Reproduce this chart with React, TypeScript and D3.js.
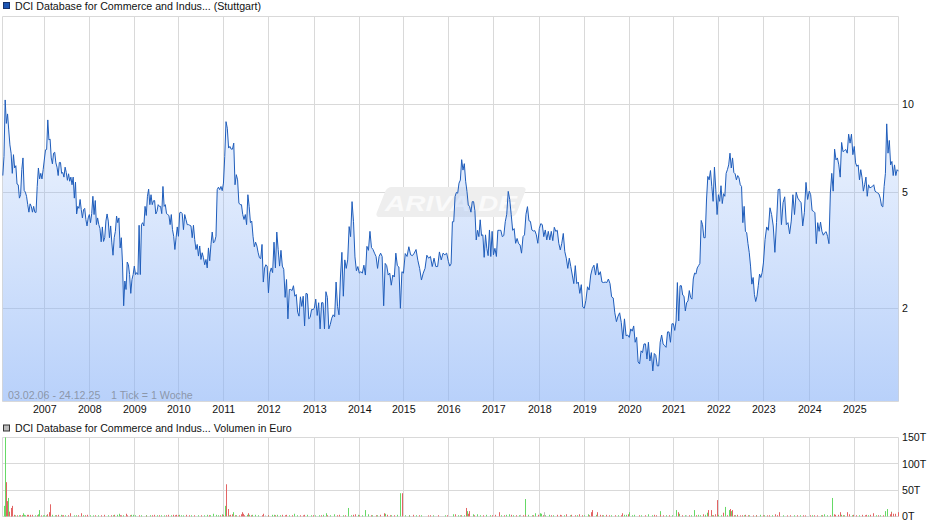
import React from "react";
import * as d3 from "d3";

const yearLabels = ["2007","2008","2009","2010","2011","2012","2013","2014","2015","2016","2017","2018","2019","2020","2021","2022","2023","2024","2025"];
// weeks of data in each calendar segment, 2006 .. 2025
const weeksPerYear = [48,52,52,51,52,52,53,52,51,52,52,53,52,52,51,52,52,53,52,51];

const p2006 = [5.7,6.63,10.35,8.6,9.27,8.17,7.26,6.8,5.8,6.72,6.05,6.16,5.33,5.3,4.77,4.9,5.97,6.55,5.07,5.0,4.84,4.53,4.27,4.56,4.47,4.27,4.47,4.27,4.26,5.23,6.05,5.55,5.8,5.55,5.97];
const p2007 = [6.98,7.0,8.84,7.55,7.6,6.55,6.25,6.8,6.85,6.3,6.09,5.7,6.32,6.32,5.8,5.84,5.63,6.09,5.84,5.49,5.78,5.45,5.63,5.3,5.63,4.77,5.41,4.21,4.47,4.4,4.72,4.36,4.08,4.36,4.4,4.03,3.83,4.08,4.19];
const p2008 = [3.93,4.22,4.84,4.19,4.68,3.87,4.08,3.87,3.75,3.38,3.8,3.39,3.49,3.98,4.21,3.98,3.49,3.83,3.35,3.04,3.49,3.67,4.14,3.93,4.08,3.22,3.49,2.86,2.04,2.48,2.32,2.88,2.82,2.61,2.25,2.51,2.61,2.79];
const p2009 = [2.61,2.65,2.61,3.85,2.61,3.87,3.93,3.83,4.47,4.16,4.84,5.12,4.53,4.9,4.53,4.67,4.68,4.21,4.3,4.53,4.47,4.47,4.22,5.23,4.47,4.53,4.22,4.19,4.16,3.87,4.19,3.72,3.53,3.18,3.49,3.8,3.53];
const p2010 = [4.25,4.27,4.22,3.72,4.19,4.03,3.87,3.87,3.85,3.83,3.49,3.85,3.44,3.18,3.31,3.02,3.27,2.94,3.1,2.98,2.82,2.94,2.75,3.22,2.91,3.31,3.65,3.35,3.39,3.53,5.1,5.2,5.1,5.23,5.06,5.37];
const p2011 = [6.63,8.72,8.28,7.08,7.17,7.02,7.02,7.36,5.3,5.74,5.51,4.59,4.53,4.53,4.19,4.03,4.19,3.87,4.9,4.47,3.93,3.98,3.53,3.25,3.37,3.27,3.1,2.98,2.96,3.31,2.46,2.75,2.82,2.79,2.26];
const p2012 = [2.65,2.75,2.65,3.37,2.75,3.65,3.18,2.79,3.16,2.79,2.72,2.18,2.51,1.84,2.32,2.32,2.3,2.39,2.2,2.23,1.94,1.88,2.19,2.03,2.2,1.74,2.25,2.24,1.84,1.86,1.98,1.98,2.0];
const p2013 = [2.15,1.89,2.09,1.7,2.09,2.09,1.7,2.28,2.18,1.7,1.76,1.85,1.9,1.87,2.46,2.03,1.9,2.56,3.11,2.2,2.93,2.74,2.93,3.81,3.52,4.64,3.96,3.0,2.69,2.78,2.64];
const p2014 = [2.67,2.64,2.81,2.6,3.26,3.16,3.67,3.23,3.18,3.09,3.01,2.74,3.01,3.09,3.01,2.04,2.85,2.8,2.6,2.64,2.4,2.6,2.56,3.09,2.8,2.77,2.0,2.67,2.64];
const p2015 = [3.08,3.01,3.25,3.05,3.03,3.09,3.18,2.92,2.74,2.5,2.64,2.74,3.04,2.97,3.01,2.78,2.97,2.78,2.78,3.12,2.93,3.09,3.05,3.09,2.89];
const p2016 = [2.79,2.84,3.96,3.96,4.83,4.99,4.96,5.37,5.5,6.46,5.95,6.26,5.45,5.03,4.52,4.46,4.27,4.64,4.64,4.32,3.43,3.7,3.52,4.02,3.55,3.57,2.99,3.57,3.21,3.03,3.71,3.01,3.67,3.05];
const p2017 = [3.21,3.01,3.7,3.7,3.7,3.52,3.55,3.96,4.2,5.03,4.72,4.2,3.7,3.75,3.34,3.47,3.33,3.3,3.09,3.52,3.57,4.2,4.46,3.99,3.97,3.71,3.68,3.69,3.57,3.34,3.75];
const p2018 = [3.9,3.87,3.52,3.71,3.43,3.67,3.43,3.67,3.41,3.79,3.67,3.7,3.34,3.17,3.34,3.61,3.13,2.97,2.74,2.97,2.78,2.6,2.43,2.8,2.43,2.46,2.25,2.41,2.02,2.0];
const p2019 = [2.13,2.37,2.31,2.6,2.74,2.81,2.6,2.85,2.6,2.67,2.46,2.45,2.46,2.45,2.52,2.43,2.19,2.17,1.93,1.8,1.88,1.93,1.79,1.57,1.84,1.61,1.62,1.59];
const p2020 = [1.7,1.67,1.74,1.53,1.59,1.31,1.29,1.43,1.41,1.51,1.51,1.34,1.53,1.32,1.41,1.22,1.4,1.38,1.27,1.27,1.53,1.62,1.51,1.49,1.47,1.66,1.66,1.53,1.77,1.77];
const p2021 = [1.68,1.81,2.45,1.81,2.39,2.39,2.22,2.2,1.96,2.09,2.12,2.3,2.18,2.15,2.52,2.64,2.62,2.75,2.8,2.85,4.0,3.87,3.49,3.49,4.7,5.66,5.51,5.93,5.23,4.65,6.09,5.12,4.19,4.9];
const p2022 = [4.65,5.26,4.57,4.94,4.84,5.8,5.97,6.2,6.8,6.05,6.55,5.84,5.78,5.51,5.7,5.6,5.3,5.23,3.93,4.47,3.67,3.63,3.33,3.1,2.79,2.42,2.55,2.23,2.11,2.2,2.39,2.62,2.55,2.65,2.86];
const p2023 = [3.44,3.8,3.7,4.42,4.19,3.83,3.11,3.93,5.1,5.12,3.87,4.6,4.82,3.87,3.93,3.6,3.98,4.9,4.19,5.0,4.77,4.68,4.6,3.83,4.25,5.4,4.72,5.04];
const p2024 = [4.9,4.33,4.3,4.25,3.33,3.93,3.67,3.95,3.67,3.56,3.63,3.66,3.53,3.33,4.97,5.8,5.04,7.02,6.45,6.55,6.2,5.63,7.4,6.88,6.94,7.0,6.8,7.9,7.36,7.9,6.72,7.17];
const p2025 = [6.3,6.13,6.2,5.51,5.97,5.6,5.04,5.3,5.63,4.84,5.3,5.17,5.2,5.23,5.3,5.04,5.0,4.97,4.93,4.77,4.49,4.45,5.23,5.8,8.57,6.8,7.52,6.2,6.37,5.7,6.2,5.7,5.97,5.9];
const priceByYear = [p2006,p2007,p2008,p2009,p2010,p2011,p2012,p2013,p2014,p2015,p2016,p2017,p2018,p2019,p2020,p2021,p2022,p2023,p2024,p2025];

const priceTicks = [10, 5, 2];
const volumeTicks = [150, 100, 50, 0];

// [week index, volume in thousand euro]
const volumeUp: [number, number][] = [[1,20],[2,4],[3,150],[6,35],[14,2],[23,6],[24,3],[41,4],[42,12],[46,2],[50,2],[54,3],[57,3],[67,3],[82,2],[104,2],[132,3],[134,5],[148,3],[150,3],[166,2],[186,2],[204,3],[208,2],[236,3],[243,5],[246,3],[253,4],[257,20],[261,2],[266,8],[282,3],[285,3],[288,3],[292,3],[311,3],[313,3],[317,3],[336,5],[352,3],[361,2],[370,3],[374,6],[383,4],[399,16],[410,3],[419,12],[422,4],[442,5],[455,3],[459,44],[469,2],[520,4],[528,2],[536,10],[543,4],[548,4],[558,3],[582,3],[585,4],[603,33],[607,3],[615,6],[621,6],[622,5],[631,3],[676,4],[685,3],[718,3],[720,3],[724,8],[730,3],[746,4],[759,10],[778,12],[782,5],[799,12],[803,3],[811,3],[814,7],[827,3],[835,18],[839,12],[841,10],[875,3],[949,4],[958,35],[969,3],[1020,10],[1022,14],[1026,9]];
const volumeDown: [number, number][] = [[4,65],[5,29],[7,9],[9,16],[10,8],[11,20],[13,3],[16,2],[28,3],[29,3],[31,3],[34,3],[44,2],[51,4],[53,8],[55,23],[64,3],[68,2],[78,6],[90,6],[97,3],[117,3],[129,3],[137,2],[142,5],[144,2],[175,3],[191,3],[197,3],[200,3],[212,3],[254,3],[258,61],[260,14],[263,3],[265,4],[273,2],[275,4],[276,8],[278,5],[283,6],[301,5],[323,3],[327,3],[348,3],[347,2],[388,3],[405,3],[407,4],[436,3],[441,6],[444,3],[461,44],[474,3],[491,2],[523,4],[535,16],[538,5],[539,10],[569,3],[573,8],[587,3],[604,3],[618,3],[641,3],[644,3],[651,4],[657,3],[666,4],[680,8],[681,12],[687,8],[690,3],[697,3],[716,6],[722,4],[752,3],[760,3],[780,8],[809,4],[815,12],[818,12],[823,4],[825,31],[832,7],[840,14],[843,12],[849,3],[852,2],[858,3],[867,2],[883,2],[892,4],[897,8],[906,2],[927,2],[941,2],[960,4],[962,3],[965,3],[967,8],[976,8],[978,4],[983,3],[993,3],[998,3],[1002,3],[1006,6],[1025,4],[1027,8],[1029,5],[1031,5],[1034,8]];
const volumeFlat: [number, number][] = [[598,3],[626,8],[303,2],[497,1],[790,2]];
const lowUpWeeks = [19,26,37,48,60,72,85,93,101,110,121,127,139,153,160,170,178,183,194,206,218,226,233,240,249,270,295,306,320,331,340,356,365,378,393,402,415,427,433,449,465,478,483,497,511,526,533,552,563,576,590,596,611,627,636,648,655,663,672,694,703,711,727,737,750,766,773,788,795,806,820,830,846,856,862,871,880,889,902,914,921,935,945,953,972,981,990,1000,1009,1014];
const lowDownWeeks = [20,22,32,39,62,70,75,87,95,107,113,125,135,147,157,165,172,181,189,199,203,215,221,229,238,251,268,279,287,299,307,315,326,334,344,358,368,375,386,396,412,425,431,447,452,470,481,494,503,513,530,545,555,565,579,593,601,613,624,634,645,661,669,678,692,700,708,714,735,742,755,763,770,785,793,801,812,821,837,845,854,861,870,878,886,895,910,918,925,933,938,947,956,971,986,996,1011,1017];

const W = 940, H = 526;
const left = 2.5, right = 898.5;
const priceTop = 16.5, priceBottom = 401.5;
const weekMax = d3.sum(weeksPerYear);
const x = d3.scaleLinear().domain([0, weekMax]).range([2.8, 898.4]);
const y = d3.scaleLog().domain([10, 2]).range([104.3, 308.3]);
const yVol = d3.scaleLinear().domain([0, 150]).range([516.4, 437.4]);

const cumWeeks = Array.from(d3.cumsum(weeksPerYear));
const priceSeries: [number, number][] = priceByYear.flatMap((vals, i) => {
  const start = i === 0 ? 0 : cumWeeks[i - 1];
  const len = weeksPerYear[i];
  return vals.map((v, j): [number, number] => [
    i === 0 ? start + (j * len) / vals.length : start + ((j + 1) * len) / vals.length,
    v,
  ]);
});
const line = d3.line<[number, number]>().x((d) => x(d[0])).y((d) => y(d[1]));
const area = d3.area<[number, number]>().x((d) => x(d[0])).y0(priceBottom).y1((d) => y(d[1]));
const snap = (v: number) => Math.floor(v) + 0.5;
const gridXs = cumWeeks.slice(0, yearLabels.length).map((w) => snap(x(w)));
const FONT = "'Liberation Sans', Arial, sans-serif";
const GRID = "#d9d9d9";

function Grid({ top, bottom, ys }: { top: number; bottom: number; ys: number[] }) {
  return (
    <g stroke={GRID} strokeWidth={1} fill="none">
      {ys.map((v) => <line key={v} x1={left} x2={right} y1={snap(v)} y2={snap(v)} />)}
      {gridXs.map((v) => <line key={v} x1={v} x2={v} y1={top} y2={bottom} />)}
      <line x1={left} x2={left} y1={top} y2={bottom} />
      <line x1={right} x2={right} y1={top} y2={bottom} />
    </g>
  );
}

function Bars({ rows, color }: { rows: [number, number][]; color: string }) {
  return (
    <g fill={color}>
      {rows.map(([w, v]) => (
        <rect key={w} x={Math.round(x(w))} width={1} y={yVol(v)} height={yVol(0) - yVol(v)} />
      ))}
    </g>
  );
}

export default function App() {
  return (
    <svg width={W} height={H} viewBox={`0 0 ${W} ${H}`} style={{ position: "absolute", left: 0, top: 0, display: "block", background: "#fff" }} fontFamily={FONT} fontSize={10.65}>
      <defs>
        <linearGradient id="fade" gradientUnits="userSpaceOnUse" x1={0} x2={0} y1={priceTop} y2={priceBottom}>
          <stop offset="0" stopColor="#89b2f7" stopOpacity={0} />
          <stop offset="1" stopColor="#89b2f7" stopOpacity={0.6} />
        </linearGradient>
      </defs>

      <rect x={3.5} y={2.5} width={6} height={6} fill="#1c56b4" stroke="#16326b" />
      <text x={15} y={9.5} fill="#111">DCI Database for Commerce and Indus... (Stuttgart)</text>

      <Grid top={priceTop} bottom={priceBottom} ys={[priceTop, ...priceTicks.map((t) => y(t))]} />

      <g>
        <path d="M392 187 H522 Q527 187 525 192 L517 212 Q515 217 510 217 H380 Q375 217 377 212 L385 192 Q387 187 392 187 Z" fill="#eeeeee" />
        <text x={385} y={211} fontSize={22} fontWeight="bold" fontStyle="italic" fill="#fafafa" textLength={132} lengthAdjust="spacingAndGlyphs">ARIVA.DE</text>
      </g>

      <path d={area(priceSeries) ?? ""} fill="url(#fade)" />
      <path d={line(priceSeries) ?? ""} fill="none" stroke="#1f5dbb" strokeWidth={1} strokeLinejoin="round" />
      <line x1={left} x2={right} y1={priceBottom} y2={priceBottom} stroke={GRID} />

      <text x={8} y={399} fill="#7f8794" fillOpacity={0.8}>03.02.06 - 24.12.25</text>
      <text x={111} y={399} fill="#7f8794" fillOpacity={0.8}>1 Tick = 1 Woche</text>

      {yearLabels.map((label, i) => (
        <text key={label} x={gridXs[i] + 0.3} y={412.5} textAnchor="middle" fill="#111">{label}</text>
      ))}
      {priceTicks.map((t) => (
        <text key={t} x={902} y={y(t) + 4} fill="#111">{t}</text>
      ))}

      <rect x={3.5} y={425} width={6} height={6} fill="#bdbdbd" stroke="#333" />
      <text x={15} y={431.5} fill="#111">DCI Database for Commerce and Indus... Volumen in Euro</text>

      <Grid top={437.5} bottom={516.5} ys={volumeTicks.map((t) => yVol(t))} />
      <Bars rows={lowUpWeeks.map((w): [number, number] => [w, 2.2])} color="#66d966" />
      <Bars rows={lowDownWeeks.map((w): [number, number] => [w, 2.2])} color="#e36464" />
      <Bars rows={volumeFlat} color="#bdbdbd" />
      <Bars rows={volumeUp} color="#66d966" />
      <Bars rows={volumeDown} color="#e36464" />
      {volumeTicks.map((t) => (
        <text key={t} x={902} y={yVol(t) + 4} fill="#111">{`${t}T`}</text>
      ))}
    </svg>
  );
}
